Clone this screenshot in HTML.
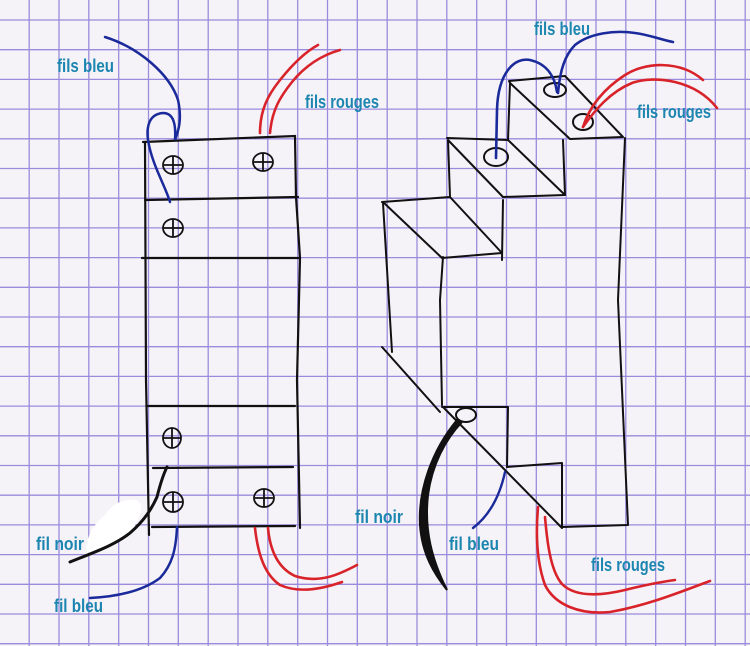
<!DOCTYPE html>
<html><head><meta charset="utf-8"><style>
html,body{margin:0;padding:0;background:#f6f3f8;}
svg{display:block}
text{font-family:"Liberation Sans Narrow","Liberation Sans",sans-serif;font-weight:bold;fill:#1c86b0;font-size:18px}
</style></head><body>
<svg width="750" height="646" viewBox="0 0 750 646" xmlns="http://www.w3.org/2000/svg">
<rect width="750" height="646" fill="#f6f3f8"/>
<g id="grid" stroke="#8b7ad8" stroke-width="1.3" opacity="0.85">
<line x1="29.2" y1="0" x2="29.2" y2="646"/><line x1="59.0" y1="0" x2="59.0" y2="646"/><line x1="88.8" y1="0" x2="88.8" y2="646"/><line x1="118.7" y1="0" x2="118.7" y2="646"/><line x1="148.5" y1="0" x2="148.5" y2="646"/><line x1="178.3" y1="0" x2="178.3" y2="646"/><line x1="208.2" y1="0" x2="208.2" y2="646"/><line x1="238.0" y1="0" x2="238.0" y2="646"/><line x1="267.8" y1="0" x2="267.8" y2="646"/><line x1="297.7" y1="0" x2="297.7" y2="646"/><line x1="327.5" y1="0" x2="327.5" y2="646"/><line x1="357.3" y1="0" x2="357.3" y2="646"/><line x1="387.2" y1="0" x2="387.2" y2="646"/><line x1="417.0" y1="0" x2="417.0" y2="646"/><line x1="446.8" y1="0" x2="446.8" y2="646"/><line x1="476.7" y1="0" x2="476.7" y2="646"/><line x1="506.5" y1="0" x2="506.5" y2="646"/><line x1="536.3" y1="0" x2="536.3" y2="646"/><line x1="566.2" y1="0" x2="566.2" y2="646"/><line x1="596.0" y1="0" x2="596.0" y2="646"/><line x1="625.8" y1="0" x2="625.8" y2="646"/><line x1="655.7" y1="0" x2="655.7" y2="646"/><line x1="685.5" y1="0" x2="685.5" y2="646"/><line x1="715.3" y1="0" x2="715.3" y2="646"/><line x1="745.2" y1="0" x2="745.2" y2="646"/>
<line x1="0" y1="20.0" x2="750" y2="20.0"/><line x1="0" y1="49.7" x2="750" y2="49.7"/><line x1="0" y1="79.4" x2="750" y2="79.4"/><line x1="0" y1="109.1" x2="750" y2="109.1"/><line x1="0" y1="138.8" x2="750" y2="138.8"/><line x1="0" y1="168.5" x2="750" y2="168.5"/><line x1="0" y1="198.2" x2="750" y2="198.2"/><line x1="0" y1="227.9" x2="750" y2="227.9"/><line x1="0" y1="257.6" x2="750" y2="257.6"/><line x1="0" y1="287.3" x2="750" y2="287.3"/><line x1="0" y1="317.0" x2="750" y2="317.0"/><line x1="0" y1="346.7" x2="750" y2="346.7"/><line x1="0" y1="376.4" x2="750" y2="376.4"/><line x1="0" y1="406.1" x2="750" y2="406.1"/><line x1="0" y1="435.8" x2="750" y2="435.8"/><line x1="0" y1="465.5" x2="750" y2="465.5"/><line x1="0" y1="495.2" x2="750" y2="495.2"/><line x1="0" y1="524.9" x2="750" y2="524.9"/><line x1="0" y1="554.6" x2="750" y2="554.6"/><line x1="0" y1="584.3" x2="750" y2="584.3"/><line x1="0" y1="614.0" x2="750" y2="614.0"/><line x1="0" y1="643.7" x2="750" y2="643.7"/>
</g>

<!-- LEFT DRAWING -->
<g fill="none" stroke="#111" stroke-width="2.2" stroke-linecap="round">
<path d="M143 142 L295 136 L296 197 L300 258 L297 380 L300 528"/>
<path d="M145 142 L146 380 L149 535"/>
<path d="M145 200 L298 197"/>
<path d="M142 258 L300 258"/>
<path d="M148 406 L295 406"/>
<path d="M153 468 L293 467"/>
<path d="M152 527 L295 526"/>
</g>
<g fill="none" stroke="#111" stroke-width="1.8">
<ellipse cx="173" cy="165" rx="10" ry="9"/><path d="M164 165 H182 M173 156 V174"/>
<ellipse cx="263" cy="162" rx="10" ry="9"/><path d="M254 162 H272 M263 153 V171"/>
<ellipse cx="173" cy="228" rx="10" ry="9"/><path d="M164 228 H182 M173 219 V237"/>
<ellipse cx="172" cy="438" rx="9" ry="10"/><path d="M163 438 H181 M172 428 V448"/>
<ellipse cx="173" cy="502" rx="10" ry="10"/><path d="M164 502 H182 M173 492 V512"/>
<ellipse cx="264" cy="498" rx="10" ry="9"/><path d="M255 498 H273 M264 489 V507"/>
</g>
<path d="M105 37 C140 48 170 75 178 100 C182 118 179 130 175 140 C176 125 174 113 163 113 C150 114 146 125 148 140 C152 165 165 185 170 202" fill="none" stroke="#1a2a9a" stroke-width="2.5" stroke-linecap="round"/>
<path d="M177 527 C176 550 172 565 160 578 C140 593 110 597 90 598" fill="none" stroke="#1a2a9a" stroke-width="2.5" stroke-linecap="round"/>
<g fill="none" stroke="#d8232a" stroke-width="2.6" stroke-linecap="round">
<path d="M260 133 C260 110 268 95 280 80 C292 65 305 52 318 45"/>
<path d="M270 133 C272 110 280 97 292 82 C305 66 322 55 340 50"/>
<path d="M255 528 C258 555 265 575 280 585 C300 594 325 588 342 582"/>
<path d="M268 528 C270 550 278 568 295 576 C320 584 340 574 357 565"/>
</g>
<path d="M87 553 C85 540 92 525 105 515 C112 505 120 500 130 500 C140 498 143 505 140 515 C135 530 120 545 100 550 Z" fill="#fff"/>
<path d="M70 562 C95 552 115 545 130 533 C145 520 152 508 157 497 C160 485 163 475 167 467" fill="none" stroke="#111" stroke-width="3" stroke-linecap="round"/>

<!-- RIGHT DRAWING -->
<g fill="none" stroke="#111" stroke-width="2" stroke-linecap="round" stroke-linejoin="round">
<path d="M509 81 L565 76 L623 137 L570 139 L510 83 Z"/>
<path d="M510 83 L508 140"/>
<path d="M563 140 L565 195"/>
<path d="M447 138 L508 140 L565 195 L503 197 L448 140 L450 197"/>
<path d="M382 202 L450 197 L502 253 L442 258 L383 202"/>
<path d="M503 200 L502 260"/>
<path d="M383 203 L392 352"/>
<path d="M443 257 L440 300 L442 405"/>
<path d="M625 138 L618 300 L628 525 L562 527 L562 463 L507 467 L508 407 L442 407"/>
<path d="M382 347 L440 412"/>
<path d="M443 407 L562 528"/>
<ellipse cx="496" cy="157" rx="12" ry="9"/>
<ellipse cx="555" cy="90" rx="11" ry="7"/>
<ellipse cx="583" cy="122" rx="10" ry="8"/>
<ellipse cx="466" cy="415" rx="10" ry="7"/>
</g>
<path d="M496 158 L497 110 C498 72 515 57 530 60 C548 64 555 78 557 92" fill="none" stroke="#1a2a9a" stroke-width="2.6" stroke-linecap="round"/>
<path d="M558 93 C560 70 565 55 575 45 C590 33 615 30 635 33 C650 35 662 40 673 42" fill="none" stroke="#1a2a9a" stroke-width="2.6" stroke-linecap="round"/>
<path d="M505 472 C500 495 490 515 473 528" fill="none" stroke="#1a2a9a" stroke-width="2.4" stroke-linecap="round"/>
<g fill="none" stroke="#d8232a" stroke-width="2.6" stroke-linecap="round">
<path d="M583 127 C590 105 605 88 625 75 C645 62 680 60 703 80"/>
<path d="M583 127 C595 110 610 92 632 83 C655 75 695 80 717 108"/>
<path d="M538 507 C536 530 536 560 545 585 C555 605 580 615 610 612 C650 605 685 590 710 581"/>
<path d="M545 517 C547 540 550 570 562 584 C575 597 600 596 625 590 C645 585 660 582 675 580"/>
</g>
<path d="M457 420 C432 450 418 490 420 525 C422 555 435 575 447 590 C432 560 424 530 428 495 C432 465 445 440 462 422 Z" fill="#111" stroke="#111" stroke-width="2"/>

<!-- LABELS -->
<text x="57" y="72" textLength="57" lengthAdjust="spacingAndGlyphs">fils bleu</text>
<text x="305" y="108" textLength="74" lengthAdjust="spacingAndGlyphs">fils rouges</text>
<text x="36" y="550" textLength="48" lengthAdjust="spacingAndGlyphs">fil noir</text>
<text x="54" y="612" textLength="49" lengthAdjust="spacingAndGlyphs">fil bleu</text>
<text x="534" y="35" textLength="56" lengthAdjust="spacingAndGlyphs">fils bleu</text>
<text x="637" y="118" textLength="74" lengthAdjust="spacingAndGlyphs">fils rouges</text>
<text x="355" y="523" textLength="48" lengthAdjust="spacingAndGlyphs">fil noir</text>
<text x="449" y="550" textLength="50" lengthAdjust="spacingAndGlyphs">fil bleu</text>
<text x="591" y="571" textLength="74" lengthAdjust="spacingAndGlyphs">fils rouges</text>
</svg>
</body></html>
